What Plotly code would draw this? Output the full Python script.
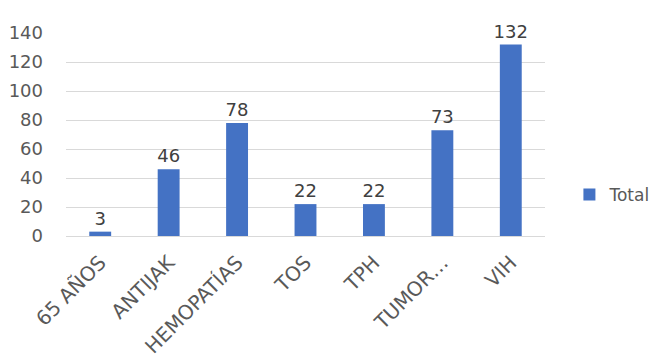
import plotly.graph_objects as go

categories = ["65 AÑOS", "ANTIJAK", "HEMOPATÍAS", "TOS", "TPH", "TUMOR…", "VIH"]
totals = [3, 46, 78, 22, 22, 73, 132]
y_ticks = [0, 20, 40, 60, 80, 100, 120, 140]

font_family = "DejaVu Sans"
text_color = "#595959"

fig = go.Figure(
    go.Bar(
        x=categories,
        y=totals,
        name="Total",
        marker=dict(color="#4472C4", line=dict(width=0)),
        text=totals,
        textposition="outside",
        constraintext="none",
        textfont=dict(family=font_family, size=18, color="#404040"),
        cliponaxis=False,
    )
)

fig.update_layout(
    width=653,
    height=361,
    margin=dict(l=66, r=108, t=33, b=125, autoexpand=False),
    paper_bgcolor="white",
    plot_bgcolor="white",
    bargap=0.68,
    showlegend=True,
    legend=dict(
        xref="container",
        yref="container",
        x=0.872,
        y=0.46,
        xanchor="left",
        yanchor="middle",
        font=dict(family=font_family, size=17, color=text_color),
        itemwidth=30,
    ),
    font=dict(family=font_family, color=text_color),
)

fig.update_yaxes(
    range=[0, 140],
    tickvals=y_ticks,
    showgrid=True,
    gridcolor="#D9D9D9",
    gridwidth=1,
    zeroline=False,
    showline=False,
    tickfont=dict(family=font_family, size=18, color=text_color),
    ticklabelstandoff=22,
)

fig.update_xaxes(
    tickangle=-45,
    showline=True,
    linecolor="#D9D9D9",
    linewidth=1,
    ticks="",
    ticklabelstandoff=6,
    tickfont=dict(family=font_family, size=20, color=text_color),
)

fig.write_html("out.html")
